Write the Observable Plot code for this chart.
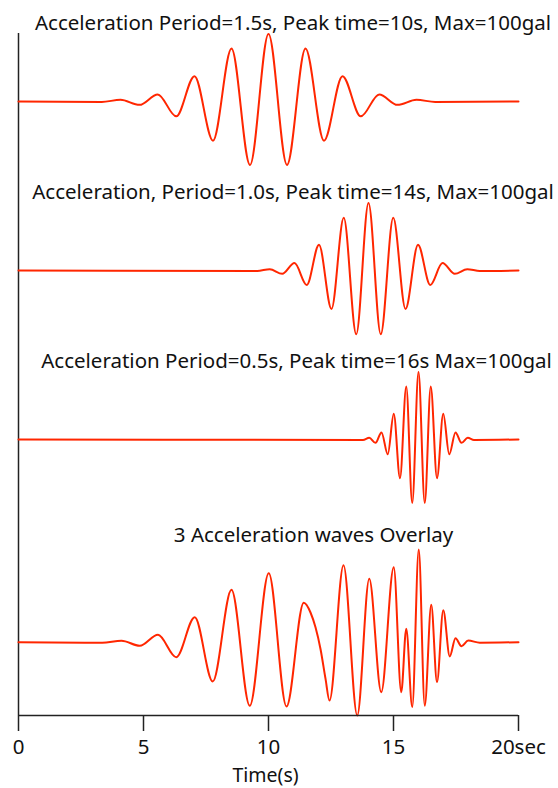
<!DOCTYPE html>
<html>
<head>
<meta charset="utf-8">
<script src="https://cdn.jsdelivr.net/npm/d3@7"></script>
<script src="https://cdn.jsdelivr.net/npm/@observablehq/plot@0.6"></script>
<style>
html, body { margin: 0; padding: 0; background: #fff; }
#chart svg { display: block; }
</style>
</head>
<body>
<div id="chart"></div>
<script>
// ---- text ----
const titles = [
  "Acceleration Period=1.5s, Peak time=10s, Max=100gal",
  "Acceleration, Period=1.0s, Peak time=14s, Max=100gal",
  "Acceleration Period=0.5s, Peak time=16s Max=100gal",
  "3 Acceleration waves Overlay"
];
const xLabel = "Time(s)";
const xTickValues = [0, 5, 10, 15, 20];
const xTickLabels = ["0", "5", "10", "15", "20sec"];

// ---- wave 1: period 1.5 s, peak at 10 s (extrema, gal) ----
const wave1Time = [0, 3.33, 4.08, 4.84, 5.57, 6.31, 7.04, 7.78, 8.52, 9.26, 10, 10.74, 11.48, 12.22, 12.96, 13.69, 14.43, 15.16, 15.92, 16.67, 20];
const wave1Gal  = [0, -0.7, 2.5, -5, 10.5, -22, 37.5, -58, 78.5, -94, 100, -94, 78.5, -58, 37.5, -22, 10.5, -5, 2.5, -0.7, 0];

// ---- wave 2: period 1.0 s, peak at 14 s ----
const wave2Time = [0, 9.55, 10.05, 10.55, 11.04, 11.53, 12.02, 12.52, 13.01, 13.51, 14, 14.49, 14.99, 15.48, 15.98, 16.47, 16.96, 17.45, 17.95, 18.45, 20];
const wave2Gal  = [0, -0.7, 2, -5, 11, -21.5, 38, -57, 78, -94.5, 100, -94.5, 78, -57, 38, -21.5, 11, -5, 2, -0.7, 0];

// ---- wave 3: period 0.5 s, peak at 16 s ----
const wave3Time = [0, 13.78, 14.03, 14.28, 14.52, 14.77, 15.01, 15.26, 15.51, 15.75, 16, 16.25, 16.49, 16.74, 16.99, 17.23, 17.48, 17.72, 17.97, 18.22, 20];
const wave3Gal  = [0, -0.7, 2.5, -5, 10.5, -22, 38, -57.5, 78.5, -94, 100, -94, 78.5, -57.5, 38, -22, 10.5, -5, 2.5, -0.7, 0];

// ---- overlay (sum of the three) ----
const overlayTime = [0, 3.35, 4.12, 4.85, 5.58, 6.31, 7.05, 7.77, 8.52, 9.25, 10.01, 10.72, 11.41, 11.68, 11.88, 12.08, 12.28, 12.44, 13.0, 13.55, 14.03, 14.51, 15.01, 15.31, 15.51, 15.75, 16.01, 16.25, 16.51, 16.74, 16.99, 17.25, 17.48, 17.72, 17.99, 18.45, 20];
const overlayGal  = [0, -0.7, 2.1, -5.3, 11, -22.2, 37, -58.2, 77.6, -94.2, 102, -95.3, 58.4, 44, 22, -10, -54, -86.4, 114, -108.6, 94, -74, 111, -74, 20, -96, 137.5, -94, 55.4, -59.3, 47.5, -21, 6, -6, 2.5, -0.7, 0];

const FONT = "'Noto Sans', 'DejaVu Sans', sans-serif";
const FS = 20.5;
const LABEL_FS = 19.5;
const LINE = "#ff2600";
const INK = "#111";

function rows(time, gal) { return time.map((t, i) => ({t, a: gal[i]})); }

function panel({time, gal, height, marginTop, marginBottom, yDomain, title, dx, dy, bottomAxis}) {
  const marks = [
    Plot.ruleX([0], {stroke: "#222", strokeWidth: 1.5}),
    Plot.line(rows(time, gal), {x: "t", y: "a", stroke: LINE, strokeWidth: 2, curve: "monotone-x"}),
    Plot.text([title], {text: d => d, frameAnchor: "top", lineAnchor: "top", dx, dy, fontSize: FS, fill: INK})
  ];
  if (bottomAxis) {
    marks.push(
      Plot.ruleY([yDomain[0]], {stroke: "#222", strokeWidth: 1.5}),
      Plot.axisX({ticks: xTickValues, tickFormat: d => xTickLabels[xTickValues.indexOf(d)],
        tickSize: 16, tickPadding: 8, fontSize: FS, stroke: "#222", strokeWidth: 1.5, fill: INK, label: null}),
      Plot.text([xLabel], {text: d => d, frameAnchor: "bottom", lineAnchor: "top", dx: -3, dy: 53, fontSize: LABEL_FS, fill: INK})
    );
  }
  return Plot.plot({
    width: 558, height,
    marginLeft: 18, marginRight: 40, marginTop, marginBottom,
    x: {domain: [0, 20], axis: null, label: null},
    y: {domain: yDomain, axis: null, label: null},
    style: {fontFamily: FONT, fontSize: FS + "px", color: INK, background: "white", overflow: "visible"},
    marks
  });
}

const chart = document.getElementById("chart");
chart.append(
  panel({time: wave1Time, gal: wave1Gal, height: 186, marginTop: 33, marginBottom: 0,
         yDomain: [-125.9, 100.7], title: titles[0], dx: 24.5, dy: -18}),
  panel({time: wave2Time, gal: wave2Gal, height: 169, marginTop: 0, marginBottom: 0,
         yDomain: [-125.9, 124.4], title: titles[1], dx: 24.5, dy: -2}),
  panel({time: wave3Time, gal: wave3Gal, height: 169, marginTop: 0, marginBottom: 0,
         yDomain: [-125.9, 124.4], title: titles[2], dx: 28, dy: -2}),
  panel({time: overlayTime, gal: overlayGal, height: 264, marginTop: 0, marginBottom: 73,
         yDomain: [-108.6, 174.4], title: titles[3], dx: 45, dy: 2.7, bottomAxis: true})
);
</script>
</body>
</html>
